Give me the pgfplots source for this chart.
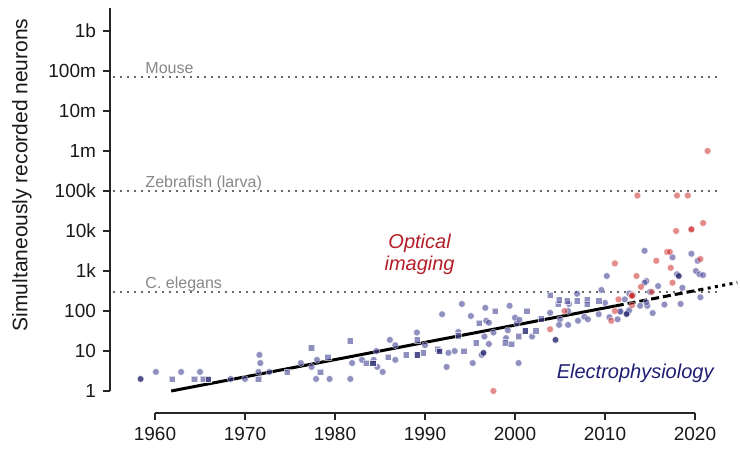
\documentclass[border=0pt]{standalone}
\usepackage{pgfplots}
\pgfplotsset{compat=1.18}
\usepackage{fontspec}
\setmainfont{Liberation Sans}
\definecolor{ephys}{RGB}{70,70,150}
\definecolor{ephysdark}{RGB}{35,35,110}
\definecolor{opt}{RGB}{205,45,45}
\definecolor{optlabel}{RGB}{180,30,40}
\definecolor{ephyslabel}{RGB}{30,30,115}
\definecolor{refgray}{RGB}{105,105,105}
\definecolor{reftext}{RGB}{135,135,135}
\begin{document}
\begin{tikzpicture}
\begin{axis}[
  name=ax, scale only axis, width=315pt, height=202.5pt,
  xmin=1955, xmax=2025, ymode=log, ymin=0.2818, ymax=3.758e9,
  axis x line=bottom, axis y line=left,
  axis line style={-, line width=1pt, color=black!85},
  x axis line style={-, shorten <=22.5pt, shorten >=22.5pt},
  y axis line style={-, shorten <=11pt},
  xtick={1960,1970,1980,1990,2000,2010,2020},
  xticklabels={1960,1970,1980,1990,2000,2010,2020},
  ytick={1,10,100,1000,10000,100000,1000000,10000000,100000000,1000000000},
  yticklabels={1,10,100,1k,10k,100k,1m,10m,100m,1b},
  yminorticks=false, xminorticks=false,
  tick align=outside, major tick length=3.5pt,
  tick style={line width=0.85pt, color=black!85},
  tick label style={font=\fontsize{9.5}{11}\selectfont, text=black!90},
  clip=false,
]
% reference lines
\addplot[refgray, line width=1.3pt, dash pattern=on 1.2pt off 2.3pt] coordinates {(1955.3,7.1e7) (2022.6,7.1e7)};
\addplot[refgray, line width=1.3pt, dash pattern=on 1.2pt off 2.3pt] coordinates {(1955.3,1e5) (2022.6,1e5)};
\addplot[refgray, line width=1.3pt, dash pattern=on 1.2pt off 2.3pt] coordinates {(1955.3,302) (2022.6,302)};
% electrophysiology circles
\addplot[only marks, mark=*, mark size=1.7pt, mark options={fill=ephys, draw=white, line width=0.3pt, opacity=0.6}] coordinates {
(1960.1,3) (1962.9,3) (1965.0,3) (1968.4,2) (1970.0,2) (1971.5,3) (1971.7,5) (1971.6,8) (1972.7,3)
(1976.2,5) (1977.4,4) (1977.9,2) (1978.0,6) (1979.4,2) (1981.9,5) (1981.7,2) (1983.0,6) (1984.3,6)
(1984.6,10) (1984.7,4) (1985.3,3) (1986.1,19) (1986.7,14) (1986.7,6) (1989.1,29) (1990.0,14)
(1991.9,83) (1992.4,4) (1992.6,9) (1993.3,10) (1993.7,30) (1994.1,150) (1995.1,75) (1995.3,5)
(1996.6,23) (1996.7,120) (1996.8,57) (1997.1,51) (1997.1,15) (1996.3,8) (1997.6,29) (1999.0,21)
(1999.2,33) (1999.4,135) (2000.0,68) (2000.2,49) (2000.5,60) (2000.4,5) (2001.9,23) (2003.9,90)
(2005.0,62) (2004.9,45) (2005.9,100) (2005.9,45) (2006.0,150) (2006.9,270) (2007.0,57) (2007.7,72)
(2008.1,62) (2009.3,83) (2009.6,335) (2010.0,160) (2010.2,750) (2010.5,70) (2011.4,62) (2011.7,100)
(2012.5,90) (2012.7,275) (2013.1,250) (2014.4,3200) (2017.5,2200) (2019.6,2700) (2020.3,1800)
(2020.1,1000) (2020.5,830) (2020.9,790) (2018.0,830) (2014.6,560) (2014.4,510) (2015.9,420)
(2018.6,380) (2015.0,300) (2020.6,220) (2016.6,145) (2018.4,150) (2015.3,89) (2013.9,135)
(2014.7,135) (2014.6,165) (2012.2,195) (2011.7,96) (2012.7,105)
};
% electrophysiology squares
\addplot[only marks, mark=square*, mark size=1.55pt, mark options={fill=ephys, draw=white, line width=0.3pt, opacity=0.6}] coordinates {
(1961.9,2) (1964.4,2) (1965.4,2) (1971.5,2) (1974.7,3) (1977.4,12) (1978.4,3) (1979.2,7)
(1981.7,18) (1983.5,5) (1985.9,7) (1987.9,8) (1989.1,19) (1989.8,9) (1991.4,11) (1993.7,24)
(1994.3,10) (1995.7,16) (1996.0,50) (1997.8,98) (1998.9,16) (1999.6,15) (2000.4,23) (2001.3,100)
(2002.3,32) (2002.9,64) (2003.9,250) (2004.8,150) (2004.9,190) (2005.8,180) (2006.9,180)
(2008.0,190) (2008.0,150) (2009.3,180)
};
% darker electrophysiology points
\addplot[only marks, mark=*, mark size=1.7pt, mark options={fill=ephysdark, draw=white, line width=0.3pt, opacity=0.8}] coordinates {
(1958.4,2) (1996.5,9) (2004.5,19) (2018.2,750) (2012.4,84)
};
\addplot[only marks, mark=square*, mark size=1.55pt, mark options={fill=ephysdark, draw=white, line width=0.3pt, opacity=0.8}] coordinates {
(1965.9,2) (1984.2,5) (1989.1,8) (1991.6,10) (2001.1,32)
};
% optical imaging
\addplot[only marks, mark=*, mark size=1.7pt, mark options={fill=opt, draw=white, line width=0.3pt, opacity=0.55}] coordinates {
(1997.6,1) (2003.9,35) (2005.5,100) (2010.7,57) (2011.1,1550) (2011.1,100) (2011.5,195)
(2013.0,250) (2013.5,750) (2013.0,140) (2021.4,1000000) (2013.6,77000) (2018.0,77000)
(2019.2,77000) (2020.9,15800) (2019.6,11000) (2019.6,11000) (2017.9,10000) (2016.9,3000)
(2017.2,3000) (2020.6,2000) (2015.7,1800) (2017.3,1200) (2017.5,510) (2014.0,400) (2015.2,300)
(2013.0,240) (2013.0,240)
};
% fit line
\addplot[black, line width=1.5pt] coordinates {(1961.8,1) (2011.2,134.6)};
\addplot[black, line width=1.5pt, dash pattern=on 4pt off 2pt] coordinates {(2011.2,134.6) (2020.6,342)};
\addplot[black, line width=1.5pt, dash pattern=on 1.5pt off 2.2pt] coordinates {(2020.6,342) (2024.7,514)};
% labels
\node[anchor=base west, inner sep=0, yshift=1.5pt, text=reftext, font=\fontsize{8}{9}\selectfont] at (axis cs:1958.9,7.1e7) {Mouse};
\node[anchor=base west, inner sep=0, yshift=1.5pt, text=reftext, font=\fontsize{8}{9}\selectfont] at (axis cs:1958.9,1e5) {Zebrafish (larva)};
\node[anchor=base west, inner sep=0, yshift=1.5pt, text=reftext, font=\fontsize{8}{9}\selectfont] at (axis cs:1958.9,302) {C. elegans};
\node[align=center, text=optlabel, font=\fontsize{10}{11}\selectfont\itshape, inner sep=0] at (axis cs:1989.4,2660) {Optical\\imaging};
\node[anchor=west, text=ephyslabel, font=\fontsize{10}{11}\selectfont\itshape, inner sep=0] at (axis cs:2004.6,2.82) {Electrophysiology};
\node[rotate=90, font=\fontsize{10.5}{12}\selectfont, text=black!90] at (axis description cs:-0.1397,0.588) {Simultaneously recorded neurons};
\end{axis}
\pgfresetboundingbox
\path ([shift={(-55pt,-19pt)}]ax.south west) rectangle ([shift={(0pt,4pt)}]ax.north east);
\end{tikzpicture}
\end{document}
